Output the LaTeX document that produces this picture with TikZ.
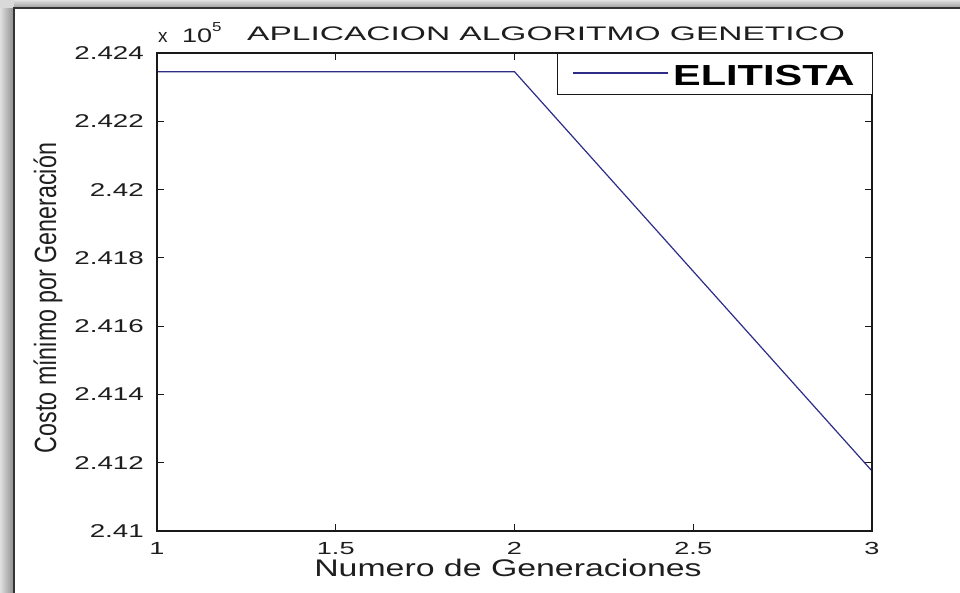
\documentclass[tikz,border=0pt]{standalone}
\usepackage{fontspec}
\setmainfont{Liberation Sans}
\usepackage{graphicx}
\definecolor{dataclr}{RGB}{45,45,135}
\definecolor{axclr}{RGB}{25,25,25}
\definecolor{txtclr}{RGB}{30,30,30}
\begin{document}
\begin{tikzpicture}[x=1pt,y=-1pt,
  axline/.style={draw=axclr,line width=1.6pt},
  axtick/.style={draw=axclr,line width=1.2pt},
  dataline/.style={draw=dataclr,line width=1.2pt},
  ticklab/.style={inner sep=0pt,text=txtclr,font=\fontsize{18.5}{18.5}\selectfont},
  xticklab/.style={inner sep=0pt,text=txtclr,font=\fontsize{17.5}{17.5}\selectfont},
  bigtxt/.style={inner sep=0pt,text=txtclr}]
\useasboundingbox (0,0) rectangle (960,593);
\fill[white] (0,0) rectangle (960,593);
% shadow of frame
\shade[left color=black!12,right color=black!45] (0,8) rectangle (14,593);
\shade[top color=black!12,bottom color=black!40] (14,0) rectangle (960,8);
\fill[black!15] (0,0) rectangle (14,8);
\draw[line width=2pt,draw=black!80] (14,593) -- (14,8) -- (960,8);
% ticks
\foreach \k/\lab in {0/2.41,1/2.412,2/2.414,3/2.416,4/2.418,5/2.42,6/2.422,7/2.424}{
  \pgfmathsetmacro\yy{531-68.2857*\k}
  \draw[axtick] (157,\yy) -- (164,\yy);
  \draw[axtick] (872,\yy) -- (865,\yy);
  \node[ticklab,anchor=east] (yl\k) at (144,\yy) {\scalebox{1.5}[1]{\lab}};
}
\foreach \k/\lab in {0/1,1/1.5,2/2,3/2.5,4/3}{
  \pgfmathsetmacro\xx{157+178.75*\k}
  \draw[axtick] (\xx,531) -- (\xx,524);
  \draw[axtick] (\xx,53) -- (\xx,60);
  \node[xticklab,anchor=north] (xl\k) at (\xx,542.5) {\scalebox{1.55}[1]{\lab}};
}
% data
\coordinate (p1) at (157,71.7);
\coordinate (p2) at (514.5,71.7);
\coordinate (p3) at (872,471);
\draw[dataline] (p1) -- (p2) -- (p3);
% axes box
\draw[axline] (157,53) rectangle (872,531);
% legend
\node[draw=axclr,line width=1.4pt,fill=white,minimum width=315pt,minimum height=41pt,anchor=north west,inner sep=0pt] (legend) at (557,53) {};
\coordinate (l1) at (573,73);
\coordinate (l2) at (668,73);
\draw[dataline] (l1) -- (l2);
\node[bigtxt,anchor=base west,text=black,font=\fontsize{29}{29}\selectfont\bfseries] (legtxt) at (673,85.7) {\scalebox{1.43}[1]{ELITISTA}};
% title and exponent
\node[bigtxt,anchor=base west,font=\fontsize{19.6}{19.6}\selectfont] (title) at (247,41) {\scalebox{1.71}[1]{APLICACION ALGORITMO GENETICO}};
\node[bigtxt,anchor=base west,font=\fontsize{19}{19}\selectfont] (expx) at (158,43) {x};
\node[bigtxt,anchor=base west,font=\fontsize{19.6}{19.6}\selectfont] (exp10) at (182,43) {\scalebox{1.38}[1]{10}};
\node[bigtxt,anchor=base west,font=\fontsize{13}{13}\selectfont] (exp5) at (212,32) {\scalebox{1.3}[1]{5}};
% axis labels
\node[bigtxt,anchor=base,font=\fontsize{24}{24}\selectfont] (xlabel) at (508,576) {\scalebox{1.41}[1]{Numero de Generaciones}};
\node[bigtxt,anchor=base,rotate=90,font=\fontsize{30.7}{30.7}\selectfont] (ylabel) at (56,298) {\scalebox{0.757}[1]{Costo mínimo por Generación}};
\end{tikzpicture}
\end{document}
